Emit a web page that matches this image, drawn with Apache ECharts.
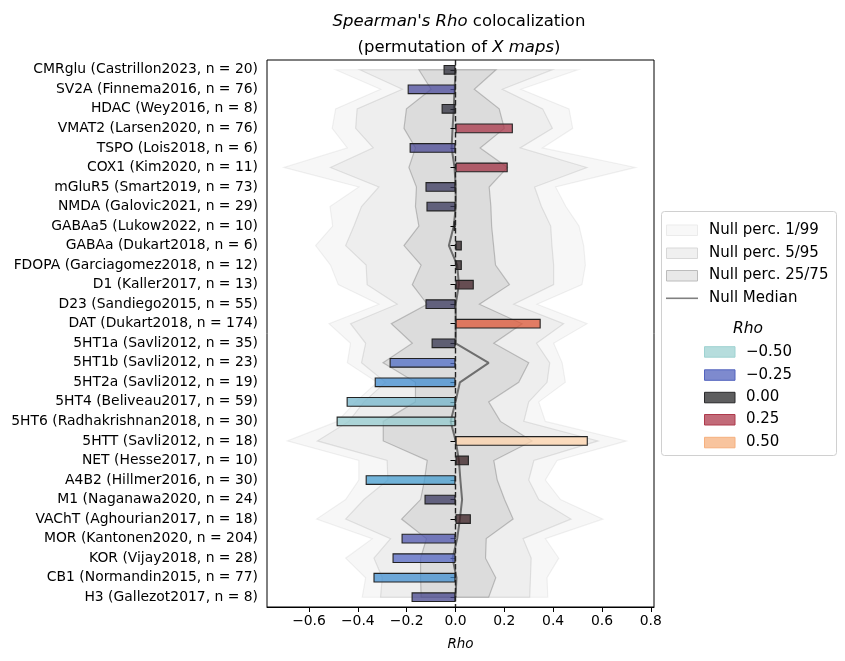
<!DOCTYPE html>
<html><head><meta charset="utf-8">
<script src="https://cdn.jsdelivr.net/npm/echarts@6/dist/echarts.min.js"></script>
<style>html,body{margin:0;padding:0;background:#fff}#c{width:845px;height:661px}</style>
</head><body><div id="c"></div>
<script>
// ---------------- DATA ----------------
const categories = [
  "CMRglu (Castrillon2023, n = 20)", "SV2A (Finnema2016, n = 76)", "HDAC (Wey2016, n = 8)",
  "VMAT2 (Larsen2020, n = 76)", "TSPO (Lois2018, n = 6)", "COX1 (Kim2020, n = 11)",
  "mGluR5 (Smart2019, n = 73)", "NMDA (Galovic2021, n = 29)", "GABAa5 (Lukow2022, n = 10)",
  "GABAa (Dukart2018, n = 6)", "FDOPA (Garciagomez2018, n = 12)", "D1 (Kaller2017, n = 13)",
  "D23 (Sandiego2015, n = 55)", "DAT (Dukart2018, n = 174)", "5HT1a (Savli2012, n = 35)",
  "5HT1b (Savli2012, n = 23)", "5HT2a (Savli2012, n = 19)", "5HT4 (Beliveau2017, n = 59)",
  "5HT6 (Radhakrishnan2018, n = 30)", "5HTT (Savli2012, n = 18)", "NET (Hesse2017, n = 10)",
  "A4B2 (Hillmer2016, n = 30)", "M1 (Naganawa2020, n = 24)", "VAChT (Aghourian2017, n = 18)",
  "MOR (Kantonen2020, n = 204)", "KOR (Vijay2018, n = 28)", "CB1 (Normandin2015, n = 77)",
  "H3 (Gallezot2017, n = 8)"
];
const rho = [-0.049, -0.196, -0.057, 0.235, -0.188, 0.214, -0.123, -0.119, -0.008, 0.026,
  0.026, 0.075, -0.123, 0.349, -0.098, -0.270, -0.331, -0.446, -0.487, 0.542,
  0.055, -0.368, -0.127, 0.063, -0.221, -0.258, -0.336, -0.180];
const null1Lo = [-0.491, -0.307, -0.491, -0.505, -0.443, -0.703, -0.396, -0.514, -0.503, -0.573,
  -0.512, -0.480, -0.314, -0.518, -0.430, -0.443, -0.321, -0.409, -0.484, -0.689,
  -0.396, -0.396, -0.450, -0.569, -0.341, -0.450, -0.368, -0.382];
const null1Hi = [0.501, 0.268, 0.465, 0.480, 0.356, 0.737, 0.410, 0.452, 0.506, 0.525,
  0.532, 0.518, 0.334, 0.539, 0.402, 0.437, 0.450, 0.341, 0.368, 0.700,
  0.416, 0.368, 0.430, 0.604, 0.368, 0.423, 0.375, 0.378];
const null5Lo = [-0.392, -0.218, -0.403, -0.409, -0.337, -0.512, -0.314, -0.385, -0.416, -0.450,
  -0.366, -0.362, -0.239, -0.430, -0.368, -0.385, -0.287, -0.375, -0.437, -0.566,
  -0.280, -0.277, -0.375, -0.450, -0.266, -0.334, -0.300, -0.307];
const null5Hi = [0.396, 0.192, 0.357, 0.397, 0.265, 0.538, 0.324, 0.352, 0.390, 0.395,
  0.402, 0.402, 0.239, 0.443, 0.332, 0.386, 0.375, 0.300, 0.280, 0.584,
  0.321, 0.300, 0.341, 0.473, 0.277, 0.310, 0.307, 0.304];
const null25Lo = [-0.150, -0.100, -0.201, -0.211, -0.164, -0.191, -0.160, -0.164, -0.150, -0.211,
  -0.141, -0.177, -0.116, -0.263, -0.177, -0.297, -0.164, -0.164, -0.296, -0.296,
  -0.116, -0.127, -0.143, -0.221, -0.119, -0.143, -0.143, -0.141];
const null25Hi = [0.166, 0.077, 0.179, 0.200, 0.101, 0.213, 0.138, 0.145, 0.148, 0.156,
  0.164, 0.221, 0.098, 0.273, 0.157, 0.300, 0.259, 0.136, 0.184, 0.314,
  0.157, 0.171, 0.201, 0.236, 0.126, 0.123, 0.165, 0.136];
const nullMedian = [0.001, -0.004, -0.007, -0.012, -0.016, -0.004, 0.001, 0.001, -0.007, -0.027,
  0.007, 0.014, 0.001, 0.001, 0.001, 0.136, 0.018, 0.000, -0.020, 0.001,
  0.014, 0.020, 0.027, 0.018, 0.007, -0.012, 0.004, 0.000];
const xTicks = [-0.6, -0.4, -0.2, 0.0, 0.2, 0.4, 0.6, 0.8];
const legendRhoTicks = [-0.5, -0.25, 0, 0.25, 0.5];
const nullLegendLabels = ["Null perc. 1/99", "Null perc. 5/95", "Null perc. 25/75", "Null Median"];

// ---------------- STYLE ----------------
const FONT = "'DejaVu Sans', sans-serif";
const cmapStops = [
  [-0.54, 189,231,219], [-0.49, 150,205,207], [-0.45, 118,182,203], [-0.37, 70,159,208],
  [-0.32, 62,135,208], [-0.26, 84,104,196], [-0.20, 76,76,160], [-0.15, 62,60,110],
  [-0.10, 52,52,80], [-0.04, 42,42,52], [0, 40,40,42], [0.05, 50,28,30], [0.10, 75,32,42],
  [0.20, 155,44,64], [0.25, 174,58,76], [0.35, 222,85,53], [0.45, 240,145,100],
  [0.50, 246,176,126], [0.54, 255,212,172]
];
function cmap(v, a) {
  const s = cmapStops;
  if (v <= s[0][0]) return `rgba(${s[0][1]},${s[0][2]},${s[0][3]},${a})`;
  if (v >= s[s.length-1][0]) { const e = s[s.length-1]; return `rgba(${e[1]},${e[2]},${e[3]},${a})`; }
  for (let i = 0; i < s.length - 1; i++) {
    if (v >= s[i][0] && v <= s[i+1][0]) {
      const t = (v - s[i][0]) / (s[i+1][0] - s[i][0]);
      const c = [1,2,3].map(k => Math.round(s[i][k] + t * (s[i+1][k] - s[i][k])));
      return `rgba(${c[0]},${c[1]},${c[2]},${a})`;
    }
  }
}
const bands = [
  { lo: null1Lo, hi: null1Hi, fill: 'rgba(0,0,0,0.03)', stroke: 'rgba(0,0,0,0.055)' },
  { lo: null5Lo, hi: null5Hi, fill: 'rgba(0,0,0,0.035)', stroke: 'rgba(0,0,0,0.09)' },
  { lo: null25Lo, hi: null25Hi, fill: 'rgba(0,0,0,0.075)', stroke: 'rgba(0,0,0,0.2)' }
];

function fmtTick(v) {
  const s = Math.abs(v).toFixed(1);
  return v < -1e-9 ? '\u2212' + s : s;
}
function fmtLeg(v) {
  const s = Math.abs(v).toFixed(2);
  return v < -1e-9 ? '\u2212' + s : s;
}

// legend graphics
const legendEls = [];
legendEls.push({ type: 'rect', shape: { x: 661.5, y: 211.5, width: 175, height: 244, r: 3 },
  style: { fill: '#fff', stroke: '#d0d0d0', lineWidth: 1 }, z: 100 });
const nullPatchStyles = [
  { fill: '#f8f8f8', stroke: '#ebebeb' },
  { fill: '#f0f0f0', stroke: '#d8d8d8' },
  { fill: '#e8e8e8', stroke: '#bcbcbc' }
];
const nullRowY = [230, 253, 275.5, 298.3];
for (let k = 0; k < 4; k++) {
  if (k < 3) {
    legendEls.push({ type: 'rect', shape: { x: 666.5, y: nullRowY[k] - 5, width: 31, height: 10.5 },
      style: nullPatchStyles[k], z: 101 });
  } else {
    legendEls.push({ type: 'line', shape: { x1: 666, y1: nullRowY[k], x2: 698, y2: nullRowY[k] },
      style: { stroke: '#808080', lineWidth: 1.6 }, z: 101 });
  }
  legendEls.push({ type: 'text', x: 709, y: nullRowY[k], z: 101,
    style: { text: nullLegendLabels[k], font: `15px ${FONT}`, fill: '#000', verticalAlign: 'middle', align: 'left' } });
}
legendEls.push({ type: 'text', x: 748, y: 329, z: 101,
  style: { text: 'Rho', font: `italic 15.5px ${FONT}`, fill: '#000', verticalAlign: 'middle', align: 'center' } });
const rhoRowY = [351.7, 374.8, 397.3, 419.5, 442.3];
legendRhoTicks.forEach((v, k) => {
  legendEls.push({ type: 'rect', shape: { x: 704.5, y: rhoRowY[k] - 5, width: 30.5, height: 10.5 },
    style: { fill: cmap(v, 0.75), stroke: cmap(v, 1), lineWidth: 1 }, z: 101 });
  legendEls.push({ type: 'text', x: 746, y: rhoRowY[k], z: 101,
    style: { text: fmtLeg(v), font: `15px ${FONT}`, fill: '#000', verticalAlign: 'middle', align: 'left' } });
});

const chart = echarts.init(document.getElementById('c'), null, { renderer: 'canvas' });
chart.setOption({
  animation: false,
  backgroundColor: '#fff',
  title: {
    left: 454, top: 4, textAlign: 'center',
    text: "{i|Spearman's Rho} colocalization\n(permutation of {i|X maps})",
    textStyle: { fontFamily: FONT, fontSize: 16.5, fontWeight: 'normal', color: '#000', lineHeight: 26,
      rich: { i: { fontFamily: FONT, fontSize: 16.5, fontStyle: 'italic', color: '#000', lineHeight: 26 } } }
  },
  grid: { left: 267, top: 60, width: 387, height: 547, show: true, borderColor: '#000', borderWidth: 1, backgroundColor: 'transparent' },
  xAxis: {
    type: 'value', min: -0.772, max: 0.813,
    name: 'Rho', nameLocation: 'middle', nameGap: 30,
    nameTextStyle: { fontFamily: FONT, fontSize: 13.5, fontStyle: 'italic', color: '#000' },
    axisLine: { show: true, lineStyle: { color: '#000', width: 1 } },
    axisTick: { show: true, length: 5, customValues: xTicks, lineStyle: { color: '#000' } },
    axisLabel: { customValues: xTicks, formatter: fmtTick, fontFamily: FONT, fontSize: 13.9, color: '#000', margin: 7 },
    splitLine: { show: false }
  },
  yAxis: {
    type: 'category', data: categories, inverse: true,
    axisLine: { show: false },
    axisTick: { show: true, alignWithLabel: true, length: 5, lineStyle: { color: '#000' } },
    axisLabel: { fontFamily: FONT, fontSize: 13.9, color: '#000', margin: 9 },
    splitLine: { show: false }
  },
  series: [
    {
      type: 'custom', z: 1, silent: true, clip: false,
      data: bands.map(() => [0, 0]),
      encode: { x: 0, y: 1 },
      renderItem: function (params, api) {
        const b = bands[params.dataIndex];
        const pts = [];
        for (let i = 0; i < categories.length; i++) pts.push(api.coord([b.lo[i], i]));
        for (let i = categories.length - 1; i >= 0; i--) pts.push(api.coord([b.hi[i], i]));
        return { type: 'polygon', shape: { points: pts }, style: { fill: b.fill, stroke: b.stroke, lineWidth: 1.2 } };
      }
    },
    {
      type: 'line', z: 2, silent: true, showSymbol: false, symbol: 'none',
      data: nullMedian.map((v, i) => [v, i]),
      lineStyle: { color: 'rgba(0,0,0,0.5)', width: 2 }
    },
    {
      type: 'bar', z: 3, barWidth: '50%',
      data: rho.map(v => ({ value: v, itemStyle: { color: cmap(v, 0.75), borderColor: '#222', borderWidth: 1.1 } }))
    },
    {
      type: 'line', z: 5, data: [], silent: true,
      markLine: {
        silent: true, symbol: 'none', label: { show: false },
        lineStyle: { color: '#222', type: [5.5, 2.5], width: 1.4 },
        data: [{ xAxis: 0 }]
      }
    }
  ],
  graphic: legendEls
});
</script>
</body></html>
